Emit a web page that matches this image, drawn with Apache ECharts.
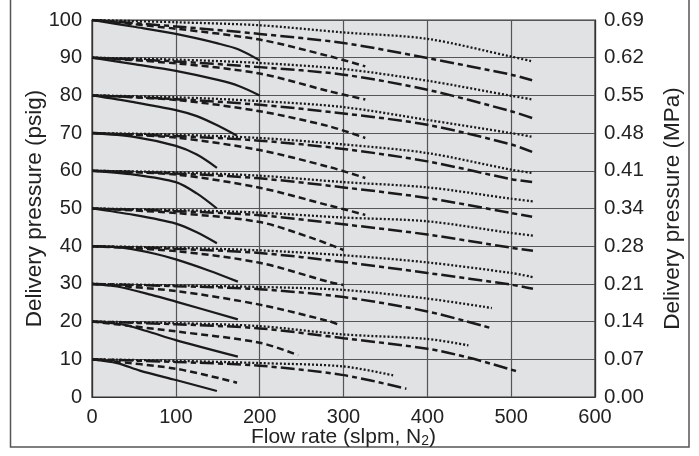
<!DOCTYPE html>
<html>
<head>
<meta charset="utf-8">
<script src="https://cdn.jsdelivr.net/npm/echarts@6/dist/echarts.min.js"></script>
<style>
html,body{margin:0;padding:0;background:#fff;}
#chart{width:699px;height:456px;}
</style>
</head>
<body>
<div id="chart"></div>
<script>
// Starting delivery pressure levels (psig)
const levels = [100, 90, 80, 70, 60, 50, 40, 30, 20, 10];
// x tick labels (slpm)
const xTicks = [0, 100, 200, 300, 400, 500, 600];
// left tick labels (psig) and right tick labels (MPa)
const psigTicks = [0, 10, 20, 30, 40, 50, 60, 70, 80, 90, 100];
const mpaTicks = ['0.00', '0.07', '0.14', '0.21', '0.28', '0.34', '0.41', '0.48', '0.55', '0.62', '0.69'];

// Solid curves, one per level [flow, pressure]
const solidCurves = [
  [[0,100],[50,98.2],[100,96.3],[150,93.8],[175,92.2],[200,89.3]],
  [[0,90],[50,88.3],[100,86.5],[150,84.1],[175,82.5],[200,80]],
  [[0,80],[50,78.2],[100,76.1],[125,74.5],[150,72],[173,69.3]],
  [[0,70],[50,69],[100,66.6],[125,64.3],[149,60.8]],
  [[0,60],[50,59],[100,57],[125,54],[149,50]],
  [[0,50],[50,48.3],[100,46],[125,43.7],[149,40.8]],
  [[0,40],[40,39.5],[75,38],[100,36.5],[140,33.5],[174,30.6]],
  [[0,30],[30,29.3],[71,27.1],[100,25.3],[174,20.6]],
  [[0,20],[35,19.3],[65,17.5],[100,15.1],[174,10.7]],
  [[0,10],[30,9],[57,7],[100,4.5],[149,1.6]]
];
// Short-dash curves
const shortDashCurves = [
  [[0,100],[100,97.7],[200,94.8],[283,90.4],[326,87.7]],
  [[0,90],[100,88.5],[200,85.8],[283,81.1],[326,78.9]],
  [[0,80],[100,78.8],[200,75.8],[283,71.8],[326,68.7]],
  [[0,70],[100,68.8],[200,65.5],[283,61],[326,58.1]],
  [[0,60],[100,59],[200,55.5],[283,50.8],[326,48.3]],
  [[0,50],[100,48.8],[200,46.4],[262,42.2],[300,39]],
  [[0,40],[100,38.7],[200,35.6],[283,30.5],[300,29.7]],
  [[0,30],[100,28.1],[200,24.5],[283,20.1],[294,19.2]],
  [[0,20],[100,17.4],[200,14.4],[246,11.1]],
  [[0,10],[100,7.5],[173,3.8]]
];
// Dash-dot (long-short dash) curves
const dashDotCurves = [
  [[0,100],[100,98.3],[200,96.3],[300,93.9],[400,89.9],[500,85.5],[525,84]],
  [[0,90],[100,89],[200,87.5],[300,85.5],[400,81.5],[500,75.8],[525,74]],
  [[0,80],[100,79],[200,77.5],[300,75.2],[400,72.2],[500,67],[525,65]],
  [[0,70],[100,69.2],[200,68],[300,65.8],[400,62.5],[500,57.8],[525,57]],
  [[0,60],[100,59.3],[200,58],[300,55.6],[400,52.8],[500,48.8],[525,47.8]],
  [[0,50],[100,49.3],[200,48.2],[300,45.8],[400,43.1],[500,39.6],[526,38.8]],
  [[0,40],[100,39.3],[200,38.2],[300,35.8],[400,32.9],[500,29.8],[526,28.7]],
  [[0,30],[100,29.4],[200,28.6],[300,26.5],[400,22.7],[477,18.2]],
  [[0,20],[100,19.3],[200,18.2],[300,15.6],[400,12.8],[450,10.4],[507,6.8]],
  [[0,10],[100,9.3],[200,8.3],[300,5.8],[375,2.2]]
];
// Dotted curves
const dottedCurves = [
  [[0,100],[100,99.4],[200,98.6],[300,96.7],[400,95],[500,90.3],[526,89]],
  [[0,90],[100,89.5],[200,88.6],[300,87],[400,83.9],[500,79.9],[526,78.9]],
  [[0,80],[100,79.5],[200,78.5],[300,76.9],[400,73.5],[500,70],[526,69]],
  [[0,70],[100,69.6],[200,68.7],[300,67],[400,64.7],[500,60.3],[526,59.4]],
  [[0,60],[100,59.6],[200,58.7],[300,57],[400,55.6],[500,52.6],[526,51.9]],
  [[0,50],[100,49.6],[200,48.9],[300,47.6],[400,46.6],[500,43.5],[526,42.8]],
  [[0,40],[100,39.6],[200,38.9],[300,37.6],[400,35.7],[500,32.9],[526,31.8]],
  [[0,30],[100,29.6],[200,29.2],[300,28.4],[400,26.1],[477,23.6]],
  [[0,20],[100,19.6],[200,18.8],[300,16.6],[400,15.4],[449,13.7]],
  [[0,10],[100,9.6],[200,9],[300,8.1],[360,5.7]]
];

const FONT = '"Liberation Sans", Arial, Helvetica, sans-serif';
const INK = '#1a1a1a';
const TXT = '#222';

const styles = [
  { name: 'solid', curves: solidCurves, line: { type: 'solid', width: 2.2 } },
  { name: 'dash', curves: shortDashCurves, line: { type: [7, 4], width: 2.5 } },
  { name: 'dashdot', curves: dashDotCurves, line: { type: [14, 4, 5, 4], width: 2.5 } },
  { name: 'dot', curves: dottedCurves, line: { type: [2, 2], width: 2.3 } }
];

const series = [];
styles.forEach(st => {
  st.curves.forEach((pts, i) => {
    series.push({
      name: st.name + levels[i],
      type: 'line',
      data: pts,
      showSymbol: false,
      smooth: 0.3,
      silent: true,
      animation: false,
      lineStyle: { color: INK, width: st.line.width, type: st.line.type, cap: 'butt' }
    });
  });
});

const chart = echarts.init(document.getElementById('chart'), null, { renderer: 'canvas' });
chart.setOption({
  animation: false,
  backgroundColor: '#ffffff',
  textStyle: { fontFamily: FONT },
  graphic: [{
    type: 'rect',
    shape: { x: 10.5, y: -3, width: 678.5, height: 450 },
    style: { fill: 'none', stroke: '#555', lineWidth: 1.5 },
    silent: true
  }],
  grid: {
    left: 92, right: 104, top: 20, bottom: 59,
    show: true, backgroundColor: '#e1e2e4', borderColor: '#333', borderWidth: 1.2
  },
  xAxis: {
    type: 'value', min: xTicks[0], max: xTicks[xTicks.length - 1], interval: 100,
    name: 'Flow rate (slpm, N{sub|2})',
    nameLocation: 'middle', nameGap: 30, nameMoveOverlap: false,
    nameTextStyle: { fontSize: 21, color: TXT, fontFamily: FONT,
      rich: { sub: { fontSize: 14, color: TXT, fontFamily: FONT, verticalAlign: 'bottom', padding: [7, 0, 0, 0] } } },
    axisLine: { show: true, lineStyle: { color: '#333', width: 1.2 } },
    axisTick: { show: false },
    axisLabel: { fontSize: 20, color: TXT, margin: 10, fontFamily: FONT },
    splitLine: { show: true, lineStyle: { color: '#555', width: 1.2 } }
  },
  yAxis: [{
    type: 'value', min: 0, max: 100, interval: 10, position: 'left',
    name: 'Delivery pressure (psig)',
    nameLocation: 'middle', nameGap: 46, nameRotate: 90, nameMoveOverlap: false,
    nameTextStyle: { fontSize: 22.5, color: TXT, fontFamily: FONT },
    axisLine: { show: true, lineStyle: { color: '#333', width: 1.2 } },
    axisTick: { show: false },
    axisLabel: { fontSize: 20, color: TXT, margin: 10, fontFamily: FONT,
      formatter: v => String(psigTicks[Math.round(v / 10)]) },
    splitLine: { show: true, lineStyle: { color: '#555', width: 1.2 } }
  }, {
    type: 'value', min: 0, max: 100, interval: 10, position: 'right',
    name: 'Delivery pressure (MPa)',
    nameLocation: 'middle', nameGap: 66, nameRotate: 90, nameMoveOverlap: false,
    nameTextStyle: { fontSize: 22.5, color: TXT, fontFamily: FONT },
    axisLine: { show: true, lineStyle: { color: '#333', width: 1.2 } },
    axisTick: { show: false },
    axisLabel: { fontSize: 20.5, color: TXT, margin: 9, fontFamily: FONT,
      formatter: v => mpaTicks[Math.round(v / 10)] },
    splitLine: { show: false }
  }],
  series: series
});
</script>
</body>
</html>
